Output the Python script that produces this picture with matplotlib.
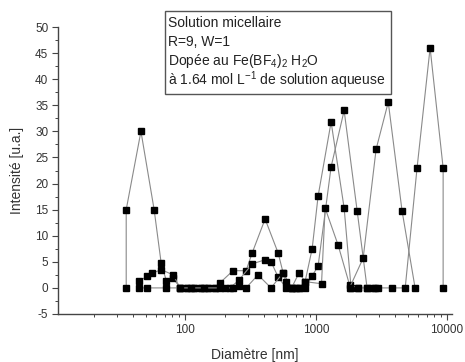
import matplotlib
matplotlib.use("Agg")
import matplotlib.pyplot as plt
from matplotlib.patches import Rectangle
from matplotlib.ticker import LogLocator, NullFormatter, MultipleLocator, FixedLocator, FixedFormatter

plt.rcParams['font.family'] = ['Liberation Sans', 'DejaVu Sans']
plt.rcParams['axes.unicode_minus'] = False
plt.rcParams['mathtext.fontset'] = 'custom'
plt.rcParams['mathtext.rm'] = 'Liberation Sans'
plt.rcParams['mathtext.it'] = 'Liberation Sans'

# --- data (diameter in nm, intensity in a.u.) ---
s1_x = [35.5, 35.5, 46, 58, 65.6, 72, 81, 91.6, 104, 117, 132, 149, 168]
s1_y = [0, 15, 30, 15, 4.8, 1.3, 1.9, 0, 0, 0, 0, 0, 0]

s2_x = [44.6, 51, 56, 65.6, 81, 91.6, 104, 117, 132, 149, 168, 185, 232, 292, 325, 408, 513, 560, 650, 741]
s2_y = [1.3, 2.2, 2.8, 3.5, 2.5, 0, 0, 0, 0, 0, 0, 1.0, 3.3, 3.3, 6.7, 13.2, 6.7, 2.9, 0, 0]

s3_x = [44.6, 51, 72, 91.6, 110, 140, 185, 220, 258, 325, 408, 453, 513, 590, 650]
s3_y = [0, 0, 0, 0, 0, 0, 0, 0, 1.5, 4.6, 5.4, 5.0, 2.1, 0, 0]

s4_x = [200, 232, 258, 292, 360, 453, 560, 590, 650, 741, 824, 933, 1036, 1302, 1637, 1850, 2100, 2450]
s4_y = [0, 0, 0.3, 0, 2.5, 0, 2.9, 1.1, 0, 2.9, 1.2, 7.5, 17.6, 31.8, 15.3, 0, 0, 0]

s5_x = [700, 824, 933, 1036, 1302, 1637, 2057, 2450, 2800]
s5_y = [0, 0, 2.3, 4.2, 23.2, 34, 14.8, 0, 0]

s6_x = [741, 824, 1100, 1172, 1473, 1800, 2100]
s6_y = [0, 1.2, 0.8, 15.3, 8.2, 0.6, 0]

s7_x = [1800, 2287, 2873, 3556, 4530, 5700]
s7_y = [0, 5.7, 26.6, 35.6, 14.8, 0]

s8_x = [2700, 2950, 3800, 4790, 5900, 7420, 9330, 9330]
s8_y = [0, 0, 0, 0, 23, 46, 23, 0]

series = [(s1_x, s1_y), (s2_x, s2_y), (s3_x, s3_y), (s4_x, s4_y),
          (s5_x, s5_y), (s6_x, s6_y), (s7_x, s7_y), (s8_x, s8_y)]

x_ticks = [100, 1000, 10000]
x_tick_labels = ["100", "1000", "10000"]

box_lines = ["Solution micellaire",
             "R=9, W=1",
             "Dopée au Fe(BF$_4$)$_2$ H$_2$O",
             "à 1.64 mol L$^{-1}$ de solution aqueuse"]

fig = plt.figure(figsize=(4.65, 3.62), dpi=100)
ax = fig.add_axes([0.1247, 0.1326, 0.8473, 0.7928])

for xs, ys in series:
    ax.plot(xs, ys, color='#8a8a8a', lw=0.8, marker='s', ms=4.2,
            mfc='black', mec='black', zorder=3)

ax.set_xscale('log')
ax.set_xlim(10.7, 10900)
ax.set_ylim(-5, 50)

ax.xaxis.set_major_locator(FixedLocator(x_ticks))
ax.xaxis.set_major_formatter(FixedFormatter(x_tick_labels))
ax.xaxis.set_minor_locator(LogLocator(base=10, subs=range(2, 10)))
ax.xaxis.set_minor_formatter(NullFormatter())
ax.yaxis.set_major_locator(MultipleLocator(5))
ax.yaxis.set_minor_locator(MultipleLocator(2.5))

ax.spines['top'].set_visible(False)
ax.spines['right'].set_visible(False)
for sp in ('left', 'bottom'):
    ax.spines[sp].set_color('#444444')
    ax.spines[sp].set_linewidth(1.0)

ax.tick_params(which='major', direction='out', length=4, width=0.8,
               colors='#444444', labelsize=8.5, labelcolor='#333333', pad=3)
ax.tick_params(which='minor', direction='out', length=2.5, width=0.7, colors='#444444')

ax.set_xlabel('Diamètre [nm]', fontsize=10, color='#333333', labelpad=9)
ax.set_ylabel('Intensité [u.a.]', fontsize=10, color='#333333', labelpad=8)

# text box
W, H = 465.0, 362.0
fig.patches.append(Rectangle((165 / W, 1 - 94 / H), (391 - 165) / W, (94 - 11) / H,
                             transform=fig.transFigure, fc='white', ec='#555555',
                             lw=1.0, zorder=5))
baselines = [27, 46, 65, 85]
for line, b in zip(box_lines, baselines):
    fig.text(168 / W, 1 - b / H, line, ha='left', va='baseline', fontsize=10,
             color='#222222', zorder=6)

fig.savefig('out.png', dpi=100)
